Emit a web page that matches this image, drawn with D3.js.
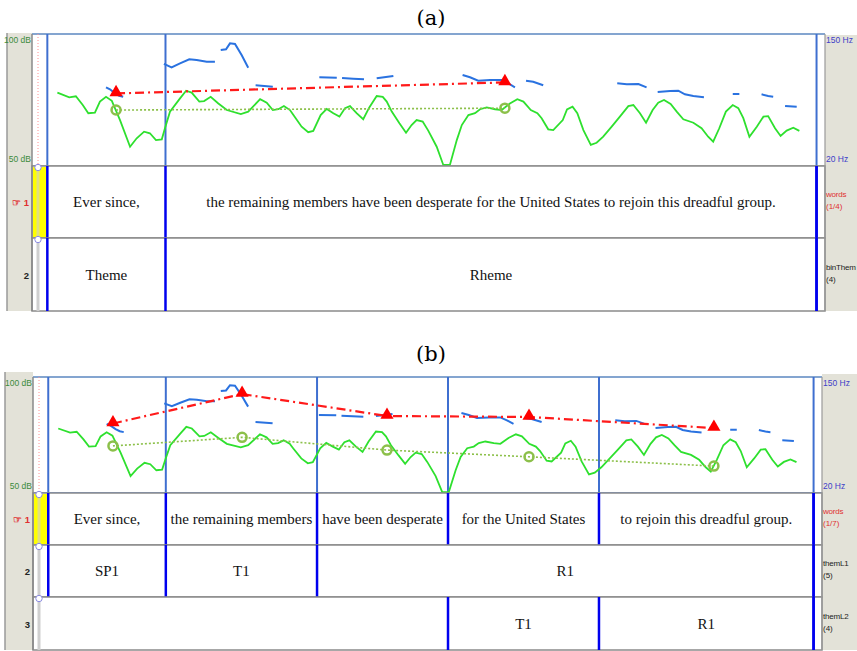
<!DOCTYPE html>
<html>
<head>
<meta charset="utf-8">
<script src="https://cdn.jsdelivr.net/npm/d3@7"></script>
<style>
  body { margin: 0; background: #fff; }
</style>
</head>
<body>
<div id="chart"></div>
<script>
// intensity contour (time s, dB)
var intensityT = [0.096,0.141,0.166,0.192,0.213,0.238,0.257,0.280,0.302,0.333,0.371,0.396,0.424,0.446,0.469,0.491,0.503,0.522,0.560,0.583,0.604,0.633,0.651,0.676,0.705,0.737,0.790,0.818,0.863,0.888,0.911,0.932,0.953,0.976,0.989,1.020,1.045,1.064,1.092,1.115,1.140,1.163,1.184,1.203,1.228,1.253,1.276,1.304,1.327,1.342,1.361,1.390,1.415,1.436,1.455,1.478,1.499,1.531,1.556,1.581,1.607,1.626,1.651,1.676,1.695,1.720,1.752,1.777,1.808,1.836,1.859,1.887,1.912,1.928,1.953,1.972,2.008,2.024,2.045,2.063,2.086,2.114,2.136,2.161,2.193,2.224,2.256,2.275,2.300,2.323,2.348,2.369,2.391,2.416,2.439,2.464,2.502,2.533,2.558,2.577,2.600,2.625,2.651,2.672,2.691,2.714,2.742,2.767,2.785,2.811,2.832,2.855,2.880,2.903];
var intensityDb = [77.8,76.0,76.4,73.1,70.0,70.2,74.4,76.2,74.7,67.4,57.3,60.5,63.0,62.4,59.8,60.1,64.3,70.6,75.6,78.5,77.8,74.4,74.6,76.2,73.7,71.2,69.7,70.6,75.3,74.0,71.2,71.5,72.7,71.2,69.3,64.9,62.8,63.3,69.3,71.6,70.0,68.7,71.9,72.7,70.0,67.7,72.2,76.5,76.2,74.4,70.6,66.2,62.6,65.5,67.4,66.8,63.4,57.3,50.4,50.4,59.8,65.5,69.3,70.0,71.5,72.2,71.5,71.2,73.7,75.3,74.4,71.2,70.0,68.1,63.9,63.6,67.4,71.4,72.5,70.0,63.6,58.0,58.8,61.1,64.9,68.7,72.7,73.1,70.0,66.4,71.2,74.0,75.0,73.5,70.6,67.7,66.4,64.3,61.1,59.2,64.3,70.6,73.1,71.9,68.1,61.1,64.9,68.7,68.9,64.3,61.4,63.4,64.5,63.3];

// pitch contour, one array per voiced stretch (time s, Hz)
var pitchT = [
  [0.280,0.295,0.314,0.330,0.345],
  [0.499,0.528,0.560,0.595,0.623,0.661,0.692],
  [0.714,0.734,0.749,0.768,0.793,0.818],
  [0.846,0.911],
  [1.087,1.153],
  [1.173,1.215,1.256],
  [1.304,1.367],
  [1.629,1.657,1.688,1.733,1.777,1.802,1.827],
  [1.869,1.896,1.934],
  [2.214,2.250,2.294,2.325],
  [2.367,2.414,2.445,2.470,2.502,2.542],
  [2.651,2.676],
  [2.760,2.785,2.804],
  [2.849,2.893]
];
var pitchHz = [
  [97.5,95.5,91.6,89.2,88.2],
  [120.5,117.2,121.1,125.1,124.4,122.7,122.7],
  [134.2,134.9,140.8,140.2,129.3,116.8],
  [99.5,98.1],
  [107.4,107.0],
  [106.7,106.0,105.4],
  [106.4,108.6],
  [109.6,107.4,104.0,104.7,104.7,101.4,97.5],
  [104.0,103.0,99.5],
  [101.4,100.5,100.8,97.5],
  [92.9,93.9,94.2,90.6,88.9,87.7],
  [90.9,90.9],
  [90.6,88.9,88.2],
  [79.1,78.4]
];

// targets, panel (a)
var targetTA = [0.318, 1.789];
var targetHzA = [91.5, 102.3];
var targetDbA = [71.2, 71.9];
// targets, panel (b)
var targetTB = [0.304, 0.795, 1.346, 1.886, 2.589];
var targetHzB = [97.9, 130.9, 106.3, 105.2, 92.8];
var targetDbB = [70.3, 74.0, 68.5, 65.6, 61.6];

// tiers
var boundsA = [0.058, 0.505, 2.968];
var wordsA = ["Ever since,", "the remaining members have been desperate for the United States to rejoin this dreadful group."];
var themeA = ["Theme", "Rheme"];

var boundsB1 = [0.058, 0.505, 1.080, 1.578, 2.152, 2.968];
var wordsB = ["Ever since,", "the remaining members", "have been desperate", "for the United States", "to rejoin this dreadful group."];
var boundsB2 = [0.058, 0.505, 1.080, 2.968];
var themL1 = ["SP1", "T1", "R1"];
var boundsB3 = [1.578, 2.152, 2.968];
var themL2 = ["T1", "R1"];

var width = 857, height = 651;
var svg = d3.select("#chart").append("svg")
  .attr("width", width)
  .attr("height", height);

var sans = "'Liberation Sans', Arial, sans-serif";
var serif = "'Liberation Serif', 'Times New Roman', serif";

function drawPanel(p) {
  var g = svg.append("g");
  var tierBottom = p.tiers[p.tiers.length - 1].bottom;

  var x = d3.scaleLinear().domain([0, 3.0]).range([p.left, p.right]);
  var yDb = d3.scaleLinear().domain([50, 100]).range([p.sigBottom, p.top]);
  var yHz = d3.scaleLinear().domain([20, 150]).range([p.sigBottom, p.top]);

  // title
  g.append("text")
    .attr("x", 431).attr("y", p.titleY)
    .attr("text-anchor", "middle")
    .style("font-family", "'DejaVu Serif', serif")
    .style("font-size", "21px")
    .text(p.title);

  // grey side margins
  g.append("rect")
    .attr("x", p.grayL).attr("y", p.grayTop)
    .attr("width", p.left - p.grayL).attr("height", tierBottom - p.grayTop)
    .style("fill", "#e3e2d8");
  g.append("line")
    .attr("x1", p.grayL).attr("x2", p.grayL)
    .attr("y1", p.grayTop).attr("y2", tierBottom)
    .style("stroke", "#9a9a9a").style("stroke-width", 1.5);
  g.append("rect")
    .attr("x", p.right).attr("y", p.grayTop + 2)
    .attr("width", width - p.right).attr("height", tierBottom - p.grayTop - 2)
    .style("fill", "#e3e2d8");

  // signal area
  g.append("rect")
    .attr("x", p.left).attr("y", p.top)
    .attr("width", p.right - p.left).attr("height", p.sigBottom - p.top)
    .style("fill", "#fff");
  g.append("line")
    .attr("x1", p.left).attr("x2", p.right)
    .attr("y1", p.top).attr("y2", p.top)
    .style("stroke", "#5b87c0").style("stroke-width", 1.5);
  g.append("line")
    .attr("x1", p.left).attr("x2", p.right)
    .attr("y1", p.sigBottom).attr("y2", p.sigBottom)
    .style("stroke", p.bottomColor).style("stroke-width", 1.5);

  // boundaries in signal area
  g.selectAll(".sb")
    .data(p.sigBounds)
    .enter().append("line")
    .attr("x1", function(d) { return x(d); })
    .attr("x2", function(d) { return x(d); })
    .attr("y1", p.top).attr("y2", p.sigBottom)
    .style("stroke", "#3f6fd0").style("stroke-width", 2);

  // cursor
  g.append("line")
    .attr("x1", p.cursorX).attr("x2", p.cursorX)
    .attr("y1", p.top).attr("y2", p.sigBottom)
    .style("stroke", "#ff9090").style("stroke-width", 1)
    .style("stroke-dasharray", "1,2");

  // axis labels
  g.append("text").attr("x", p.left - 1).attr("y", yDb(100) + 9)
    .attr("text-anchor", "end").style("font-family", sans).style("font-size", "8.5px")
    .style("fill", "#3b8a3b").text("100 dB");
  g.append("text").attr("x", p.left - 1).attr("y", yDb(50) - 4)
    .attr("text-anchor", "end").style("font-family", sans).style("font-size", "8.5px")
    .style("fill", "#3b8a3b").text("50 dB");
  g.append("text").attr("x", p.right + 1).attr("y", yHz(150) + 9)
    .style("font-family", sans).style("font-size", "8.5px")
    .style("fill", "#4040c8").text("150 Hz");
  g.append("text").attr("x", p.right + 1).attr("y", yHz(20) - 4)
    .style("font-family", sans).style("font-size", "8.5px")
    .style("fill", "#4040c8").text("20 Hz");

  // pitch
  var pitchLine = d3.line()
    .x(function(d) { return x(d[0]); })
    .y(function(d) { return yHz(d[1]); });
  var segs = pitchT.map(function(ts, i) {
    return ts.map(function(t, j) { return [t, pitchHz[i][j]]; });
  });
  g.selectAll(".pitch")
    .data(segs)
    .enter().append("path")
    .attr("d", pitchLine)
    .style("fill", "none")
    .style("stroke", "#2a72e0")
    .style("stroke-width", 2);

  // intensity
  var intLine = d3.line()
    .x(function(d) { return x(d[0]); })
    .y(function(d) { return yDb(d[1]); });
  g.append("path")
    .datum(intensityT.map(function(t, i) { return [t, intensityDb[i]]; }))
    .attr("d", intLine)
    .style("fill", "none")
    .style("stroke", "#2ee02e")
    .style("stroke-width", 1.8);

  // pitch targets
  var hzPts = p.tT.map(function(t, i) { return [t, p.tHz[i]]; });
  g.append("path")
    .datum(hzPts)
    .attr("d", pitchLine)
    .style("fill", "none")
    .style("stroke", "#ff1a1a")
    .style("stroke-width", 2.2)
    .style("stroke-dasharray", "9,4,2,4");
  g.selectAll(".tri")
    .data(hzPts)
    .enter().append("path")
    .attr("d", d3.symbol().type(d3.symbolTriangle).size(75))
    .attr("transform", function(d) { return "translate(" + x(d[0]) + "," + (yHz(d[1]) - 1) + ")"; })
    .style("fill", "#ff0000");

  // intensity targets
  var dbPts = p.tT.map(function(t, i) { return [t, p.tDb[i]]; });
  g.append("path")
    .datum(dbPts)
    .attr("d", intLine)
    .style("fill", "none")
    .style("stroke", "#8cc04a")
    .style("stroke-width", 1.6)
    .style("stroke-dasharray", "2,2");
  g.selectAll(".circ")
    .data(dbPts)
    .enter().append("circle")
    .attr("cx", function(d) { return x(d[0]); })
    .attr("cy", function(d) { return yDb(d[1]); })
    .attr("r", 4.5)
    .style("fill", "none")
    .style("stroke", "#8cc04a")
    .style("stroke-width", 2.5);

  // tiers
  p.tiers.forEach(function(tier, k) {
    g.append("rect")
      .attr("x", p.left).attr("y", tier.top)
      .attr("width", p.right - p.left).attr("height", tier.bottom - tier.top)
      .style("fill", "#fff")
      .style("stroke", "#8a8a8a").style("stroke-width", 1.5);

    if (k == 0) {
      g.append("rect")
        .attr("x", p.left + 1).attr("y", tier.top + 1)
        .attr("width", x(tier.bounds[0]) - p.left - 2).attr("height", tier.bottom - tier.top - 2)
        .style("fill", "#ffff00");
    }

    // grey bar at cursor
    g.append("line")
      .attr("x1", p.cursorX).attr("x2", p.cursorX)
      .attr("y1", tier.top + 3).attr("y2", tier.bottom)
      .style("stroke", k == 0 ? "#e0e080" : "#cfcfcf").style("stroke-width", 3);
    g.append("circle")
      .attr("cx", p.cursorX).attr("cy", tier.top + 1.5).attr("r", 3.2)
      .style("fill", "#fff").style("stroke", "#8a8ae0").style("stroke-width", 1);

    g.selectAll(".b" + k)
      .data(tier.bounds)
      .enter().append("line")
      .attr("x1", function(d) { return x(d); })
      .attr("x2", function(d) { return x(d); })
      .attr("y1", tier.top).attr("y2", tier.bottom)
      .style("stroke", "#0000ee").style("stroke-width", 2.5);

    g.selectAll(".l" + k)
      .data(tier.labels)
      .enter().append("text")
      .attr("x", function(d, i) { return (x(tier.bounds[i]) + x(tier.bounds[i + 1])) / 2; })
      .attr("y", (tier.top + tier.bottom) / 2 + 5)
      .attr("text-anchor", "middle")
      .style("font-family", serif)
      .style("font-size", "15px")
      .style("fill", "#111")
      .text(function(d) { return d; });

    // tier number on the left
    var num = g.append("text")
      .attr("x", p.left - 3).attr("y", (tier.top + tier.bottom) / 2 + 4)
      .attr("text-anchor", "end")
      .style("font-family", sans).style("font-size", "9.5px").style("font-weight", "bold")
      .style("fill", k == 0 ? "#e03030" : "#222");
    num.text(k == 0 ? "\u261E 1" : String(k + 1));

    // tier name on the right
    g.append("text")
      .attr("x", p.right + 1).attr("y", (tier.top + tier.bottom) / 2 - 5)
      .style("font-family", sans).style("font-size", "8px")
      .style("letter-spacing", "-0.2px")
      .style("fill", k == 0 ? "#e03030" : "#222")
      .text(tier.name);
    g.append("text")
      .attr("x", p.right + 1).attr("y", (tier.top + tier.bottom) / 2 + 7)
      .style("font-family", sans).style("font-size", "8px")
      .style("fill", k == 0 ? "#e03030" : "#222")
      .text(tier.count);
  });

  // right boundary runs through the whole panel
  g.append("line")
    .attr("x1", x(2.968)).attr("x2", x(2.968))
    .attr("y1", p.sigBottom).attr("y2", tierBottom)
    .style("stroke", "#0000ee").style("stroke-width", 2.5);
  g.append("line")
    .attr("x1", p.right).attr("x2", p.right)
    .attr("y1", p.top).attr("y2", tierBottom)
    .style("stroke", "#9a9a9a").style("stroke-width", 1.2);
  g.append("line")
    .attr("x1", p.left).attr("x2", p.left)
    .attr("y1", p.top).attr("y2", tierBottom)
    .style("stroke", "#8a8a8a").style("stroke-width", 1.5);
}

drawPanel({
  title: "(a)", titleY: 25,
  left: 32, right: 825, top: 34, sigBottom: 166,
  grayL: 7, grayTop: 33, cursorX: 38, bottomColor: "#9a9a9a",
  sigBounds: [0.058, 0.505, 2.968],
  tT: targetTA, tHz: targetHzA, tDb: targetDbA,
  tiers: [
    {top: 166, bottom: 238, bounds: boundsA, labels: wordsA, name: "words", count: "(1/4)"},
    {top: 238, bottom: 311, bounds: boundsA, labels: themeA, name: "binThem", count: "(4)"}
  ]
});

drawPanel({
  title: "(b)", titleY: 361,
  left: 33, right: 822, top: 377, sigBottom: 493,
  grayL: 5, grayTop: 372, cursorX: 39, bottomColor: "#4a7ad0",
  sigBounds: boundsB1,
  tT: targetTB, tHz: targetHzB, tDb: targetDbB,
  tiers: [
    {top: 493, bottom: 545, bounds: boundsB1, labels: wordsB, name: "words", count: "(1/7)"},
    {top: 545, bottom: 597, bounds: boundsB2, labels: themL1, name: "themL1", count: "(5)"},
    {top: 597, bottom: 650, bounds: boundsB3, labels: themL2, name: "themL2", count: "(4)"}
  ]
});
</script>
</body>
</html>
